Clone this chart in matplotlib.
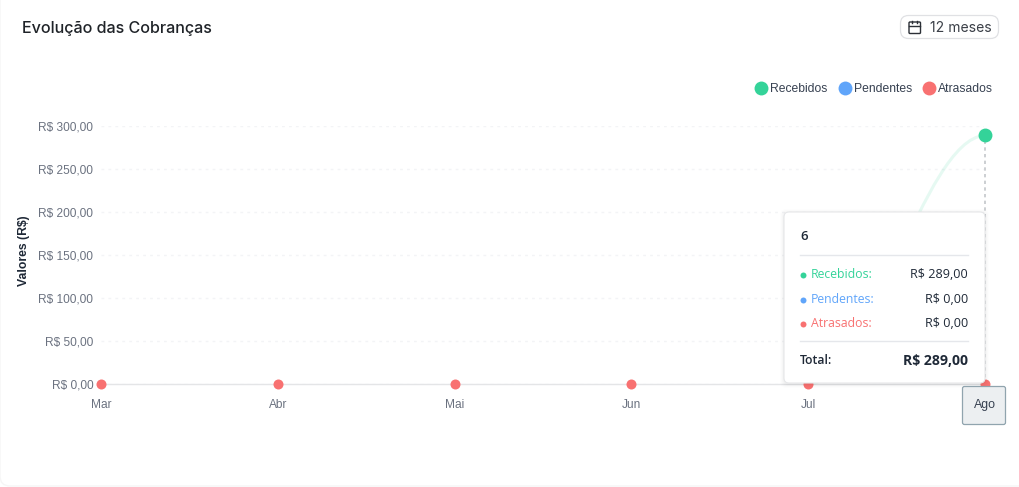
import matplotlib
matplotlib.use("Agg")
import matplotlib.pyplot as plt
from matplotlib.patches import FancyBboxPatch, PathPatch
from matplotlib.path import Path
from matplotlib.lines import Line2D
from matplotlib.transforms import ScaledTranslation

months = ["Mar", "Abr", "Mai", "Jun", "Jul", "Ago"]
recebidos = [0, 0, 0, 0, 0, 289]
pendentes = [0, 0, 0, 0, 0, 0]
atrasados = [0, 0, 0, 0, 0, 0]
y_ticks = [0, 50, 100, 150, 200, 250, 300]
series_names = ["Recebidos", "Pendentes", "Atrasados"]
series_colors = ["#34d399", "#60a5fa", "#f87171"]
tooltip_title = "6"

W, H = 1020, 487
UI = "Inter"
SANS = "Liberation Sans"
TIP = "Open Sans"


def brl(v):
    return f"R$ {v:,.2f}".replace(",", "X").replace(".", ",").replace("X", ".")


fig = plt.figure(figsize=(W / 100, H / 100), dpi=100, facecolor="white")

# main chart axes: pixel box x 101.5-984.5, y 126-384
ax = fig.add_axes([101.5 / W, 1 - 384 / H, 883 / W, 258 / H])
ax.set_xlim(0, 5)
ax.set_ylim(0, 300)
ax.patch.set_alpha(0)
for s in ax.spines.values():
    s.set_visible(False)
ax.set_yticks(y_ticks)
ax.set_yticklabels([brl(v) for v in y_ticks], fontsize=8.6, family=SANS, color="#6b7280")
up_one_px = ScaledTranslation(0, 1 / 100, fig.dpi_scale_trans)
for label in ax.get_yticklabels():
    label.set_transform(label.get_transform() + up_one_px)
ax.set_xticks(range(len(months)))
# the last month is written in the crosshair box instead of a plain tick label
ax.set_xticklabels(months[:-1] + [""], fontsize=8.6, family=SANS, color="#6b7280")
ax.tick_params(axis="y", length=0, pad=6)
ax.tick_params(axis="x", length=0, pad=10.5)
ax.grid(axis="y", color="#f3f4f6", lw=1, ls=(0, (2, 3)), zorder=0)
ax.axhline(0, color="#e4e5e7", lw=1.0, zorder=1, clip_on=False)
ax.set_ylabel("Valores (R$)", fontsize=8.8, fontweight="bold", family=SANS, color="#1f2937")
ax.yaxis.set_label_coords((29.5 - 101.5) / 883, 0.5 + 4 / 258)

# crosshair on last category
ax.plot([5, 5], [0, recebidos[-1]], color="#c4c7cb", lw=1.2, ls=(0, (2, 2)), zorder=2, clip_on=False)

# pale smoothed line of the received series between the last two months
x0, x1 = 4, 5
y0, y1 = recebidos[-2], recebidos[-1]
curve = Path(
    [(x0, y0), (x0 + 0.35, y0), (x0 + 0.65, y1 * 0.985), (x1, y1)],
    [Path.MOVETO, Path.CURVE4, Path.CURVE4, Path.CURVE4],
)
ax.add_patch(PathPatch(curve, fc="none", ec="#34d399", alpha=0.12, lw=2.2, zorder=3, clip_on=False))

# series markers (the ones hidden below the red dots are drawn smaller to avoid a halo)
xs = list(range(len(months)))
ax.scatter(xs[:-1], recebidos[:-1], s=28, color=series_colors[0], lw=0, zorder=4, clip_on=False)
ax.scatter(xs[:-1], pendentes[:-1], s=28, color=series_colors[1], lw=0, zorder=5, clip_on=False)
ax.scatter(xs, atrasados, s=52, color=series_colors[2], lw=0, zorder=6, clip_on=False)
ax.scatter(xs[-1:], recebidos[-1:], s=100, color=series_colors[0], lw=0, zorder=7, clip_on=False)

# legend
handles = [
    Line2D([], [], ls="none", marker="o", ms=10, mfc=c, mec="none", label=n)
    for n, c in zip(series_names, series_colors)
]
leg = ax.legend(
    handles=handles, ncols=3, frameon=False, loc="upper right",
    bbox_to_anchor=(997.5 / W, 1 - 79 / H), bbox_transform=fig.transFigure,
    prop={"family": SANS, "size": 8.7}, labelcolor="#374151",
    handlelength=1.0, handletextpad=0.25, columnspacing=0.93, borderpad=0.35, borderaxespad=0,
)

# overlay in pixel coordinates for card chrome and tooltip
ov = fig.add_axes([0, 0, 1, 1], zorder=10)
ov.set_xlim(0, W)
ov.set_ylim(H, 0)
ov.axis("off")
ov.patch.set_alpha(0)

under = fig.add_axes([0, 0, 1, 1], zorder=-1)
under.set_xlim(0, W)
under.set_ylim(H, 0)
under.axis("off")
under.add_patch(FancyBboxPatch((0, -12), W + 12, H + 11, boxstyle="round,pad=0,rounding_size=10",
                               fc="white", ec="#f6f6f6", lw=1))

ov.text(22, 28, "Evolução das Cobranças", fontsize=11.6, family=UI, color="#1f2328",
        fontweight="medium", va="center", ha="left")

# period button
ov.add_patch(FancyBboxPatch((900.5, 15.5), 98, 23, boxstyle="round,pad=0,rounding_size=8",
                            fc="white", ec="#e0e1e4", lw=0.9))
ov.add_patch(FancyBboxPatch((909, 22), 11.5, 11.5, boxstyle="round,pad=0,rounding_size=1",
                            fc="none", ec="#2b2f36", lw=1))
ov.plot([909, 920.5], [25.8, 25.8], color="#2b2f36", lw=1)
ov.plot([912, 912], [20.5, 23], color="#2b2f36", lw=1)
ov.plot([917.5, 917.5], [20.5, 23], color="#2b2f36", lw=1)
ov.text(930, 27.5, "12 meses", fontsize=10.1, family=UI, color="#3a3f47", va="center", ha="left")

# tooltip shadow
for pad, a in [(4, 0.008), (3, 0.012), (2, 0.016), (1, 0.02)]:
    ov.add_patch(FancyBboxPatch((784 - pad, 212 - pad + 1), 201 + 2 * pad, 171 + 2 * pad,
                                boxstyle="round,pad=0,rounding_size=6", fc="black", ec="none", alpha=a))
ov.add_patch(FancyBboxPatch((784, 212), 201, 171, boxstyle="round,pad=0,rounding_size=5",
                            fc="white", ec="#e6e7e9", lw=0.8))
ov.text(800, 236.5, tooltip_title, fontsize=9.5, family=TIP, color="#1f2937", fontweight="semibold",
        va="center", ha="left")
ov.plot([800, 968], [254.5, 254.5], color="#e5e7eb", lw=1)
ov.plot([800, 968], [340.5, 340.5], color="#e5e7eb", lw=1)

row_y = [274.5, 299.5, 323.5]
last_values = [recebidos[-1], pendentes[-1], atrasados[-1]]
for name, color, val, yy in zip(series_names, series_colors, last_values, row_y):
    ov.plot([803.5], [yy], "o", ms=4.3, color=color, mec="none")
    ov.text(811, yy, name + ":", fontsize=8.8, family=TIP, color=color, va="center", ha="left")
    ov.text(968, yy, brl(val), fontsize=9.1, family=TIP, color="#1f2937", va="center", ha="right")
ov.text(800, 360.5, "Total:", fontsize=8.8, family=TIP, color="#1f2937", fontweight="semibold",
        va="center", ha="left")
ov.text(968, 361, brl(sum(last_values)), fontsize=10.1, family=TIP, color="#1f2937", fontweight="bold",
        va="center", ha="right")

# x-axis crosshair label
ov.add_patch(FancyBboxPatch((962.5, 386.5), 43, 38, boxstyle="round,pad=0,rounding_size=2",
                            fc="#eceff1", ec="#90a4ae", lw=0.9))
ov.text(984.5, 405, months[-1], fontsize=8.9, family=SANS, color="#374151", va="center", ha="center")

fig.savefig("out.png", dpi=100, facecolor="white")
